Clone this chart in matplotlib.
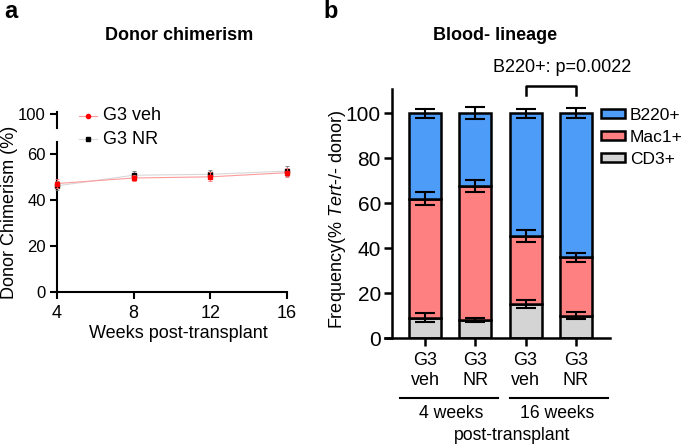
import matplotlib
matplotlib.use("Agg")
import matplotlib.pyplot as plt
from matplotlib.patches import Patch
import numpy as np

plt.rcParams['font.family'] = ['Liberation Sans', 'DejaVu Sans']
plt.rcParams['mathtext.fontset'] = 'custom'
plt.rcParams['mathtext.rm'] = 'Liberation Sans'
plt.rcParams['mathtext.it'] = 'Liberation Sans:italic'

# ---- data: panel a ----
weeks = [4, 8, 12, 16]
veh_mean = [47.0, 49.4, 49.9, 51.7]
veh_err = [2.0, 1.5, 2.0, 2.0]
nr_mean = [46.0, 50.6, 51.0, 52.4]
nr_err = [2.0, 2.0, 2.0, 2.0]

# ---- data: panel b ----
groups = ["G3\nveh", "G3\nNR", "G3\nveh", "G3\nNR"]
cd3 = [9.0, 8.0, 15.0, 10.0]
cd3_err = [2.0, 1.0, 1.8, 1.5]
mac1 = [53.0, 59.5, 30.5, 26.0]     # stacked on CD3
mac1_top_err = [2.8, 2.8, 2.6, 2.0]
b220 = [38.0, 32.5, 54.5, 64.0]     # stacked on top
b220_top_err = [2.0, 2.8, 2.0, 2.3]
timepoints = ["4 weeks", "16 weeks"]
p_text = "B220+: p=0.0022"

W, H = 684, 446
fig = plt.figure(figsize=(W / 100, H / 100), dpi=100)

def ax_px(x0, y0, x1, y1):
    return fig.add_axes([x0 / W, 1 - y1 / H, (x1 - x0) / W, (y1 - y0) / H])

# ================= panel a =================
axl = ax_px(57, 142, 287, 292)
axu = ax_px(57, 112, 287, 128)
for a in (axl, axu):
    a.set_facecolor('none')
    for s in ('top', 'right'):
        a.spines[s].set_visible(False)
    a.spines['left'].set_linewidth(1.5)
    a.tick_params(axis='both', width=1.5, length=5, labelsize=12, pad=3)
axl.spines['bottom'].set_linewidth(1.5)
axl.tick_params(axis='x', labelsize=13, pad=4)
axu.spines['bottom'].set_visible(False)
axu.set_xticks([])
axl.set_xlim(4, 16)
axu.set_xlim(4, 16)
axl.set_ylim(0, 65)
axu.set_ylim(94, 100.9)
axl.set_yticks([0, 20, 40, 60])
axu.set_yticks([100])
axl.set_xticks(weeks)

axl.plot(weeks, nr_mean, color='#d8d8d8', lw=0.8, zorder=2)
axl.plot(weeks, veh_mean, color='#ff9a9a', lw=0.8, zorder=3)
axl.errorbar(weeks, nr_mean, yerr=nr_err, fmt='s', color='black', ms=3,
             ecolor='#777777', elinewidth=0.6, capsize=1.5, capthick=0.6, zorder=4, clip_on=False)
axl.errorbar(weeks, veh_mean, yerr=veh_err, fmt='s', color='red', ms=3,
             ecolor='#ff7070', elinewidth=0.6, capsize=1.5, capthick=0.6, zorder=5, clip_on=False)

# legend handles drawn manually (figure coords)
for (y, col, lcol, mk, lab) in [(116, 'red', '#ff9a9a', 'o', 'G3 veh'),
                                (139, 'black', '#d8d8d8', 's', 'G3 NR')]:
    fig.add_artist(plt.Line2D([79 / W, 97 / W], [1 - y / H, 1 - y / H], color=lcol, lw=0.8))
    fig.add_artist(plt.Line2D([88 / W], [1 - y / H], marker=mk, color=col, ms=3, lw=0))
    fig.text(103 / W, 1 - y / H, lab, fontsize=13, va='center', ha='left')

fig.text(179 / W, 1 - 36 / H, "Donor chimerism", fontsize=13, fontweight='bold',
         ha='center', va='center')
fig.text(10 / W, 1 - 212 / H, "Donor Chimerism (%)", fontsize=13, rotation=90,
         ha='center', va='center')
fig.text(178 / W, 1 - 334 / H, "Weeks post-transplant", fontsize=13,
         ha='center', va='center')
fig.text(4 / W, 1 - 11 / H, "a", fontsize=17, fontweight='bold', ha='left', va='center')
fig.text(323 / W, 1 - 11 / H, "b", fontsize=17, fontweight='bold', ha='left', va='center')

# ================= panel b =================
axb = ax_px(385, 89, 610, 338)
axb.set_facecolor('none')
x = np.arange(len(groups))
axb.set_xlim(-0.8, 3.68)
axb.set_ylim(0, 110.7)
for s in ('top', 'right'):
    axb.spines[s].set_visible(False)
axb.spines['left'].set_position(('data', -0.66))
axb.spines['left'].set_linewidth(1.8)
axb.spines['bottom'].set_linewidth(1.8)
axb.tick_params(axis='both', width=1.8, length=6, pad=2)
axb.tick_params(axis='y', labelsize=15)
axb.tick_params(axis='x', labelsize=13, pad=4)
axb.set_yticks([0, 20, 40, 60, 80, 100])
axb.set_xticks(x)
axb.set_xticklabels(groups, linespacing=1.25)

bw = 0.64
c_b, c_m, c_c = '#4d9cf8', '#ff8080', '#d4d4d4'
mac_top = [c + m for c, m in zip(cd3, mac1)]
b_top = [mt + b for mt, b in zip(mac_top, b220)]
axb.bar(x, cd3, bw, color=c_c, edgecolor='black', lw=1.8, zorder=2)
axb.bar(x, mac1, bw, bottom=cd3, color=c_m, edgecolor='black', lw=1.8, zorder=2)
axb.bar(x, b220, bw, bottom=mac_top, color=c_b, edgecolor='black', lw=1.8, zorder=2)
for vals, errs in [(cd3, cd3_err), (mac_top, mac1_top_err), (b_top, b220_top_err)]:
    axb.errorbar(x, vals, yerr=errs, fmt='none', ecolor='black', elinewidth=1.5,
                 capsize=7, capthick=1.5, zorder=3)

# significance bracket
yb0, yb1 = 112.0, 108.0
axb.plot([2, 2, 3, 3], [yb1, yb0, yb0, yb1], color='black', lw=1.8, clip_on=False)
fig.text(562 / W, 1 - 68 / H, p_text, fontsize=13, ha='center', va='center')

# legend
leg = axb.legend([Patch(facecolor=c, edgecolor='black', lw=1.8) for c in (c_b, c_m, c_c)],
                 ["B220+", "Mac1+", "CD3+"], loc='upper left',
                 bbox_to_anchor=(0.962, 0.925), frameon=False, fontsize=12.5,
                 handlelength=1.35, handleheight=0.45, handletextpad=0.3,
                 labelspacing=0.4, borderaxespad=0, borderpad=0)

# group lines & labels
for (x0, x1, cx, lab) in [(400, 498, 451, timepoints[0]), (510, 608, 557, timepoints[1])]:
    fig.add_artist(plt.Line2D([x0 / W, x1 / W], [1 - 398 / H, 1 - 398 / H], color='black', lw=1.5))
    fig.text(cx / W, 1 - 413 / H, lab, fontsize=12.7, ha='center', va='center')
fig.text(512 / W, 1 - 435 / H, "post-transplant", fontsize=12.7, ha='center', va='center')

fig.text(495 / W, 1 - 36 / H, "Blood- lineage", fontsize=13, fontweight='bold',
         ha='center', va='center')
fig.text(338 / W, 1 - 220 / H, r"Frequency(% $\it{Tert}$-/- donor)", fontsize=13,
         rotation=90, ha='center', va='center')

fig.savefig("out.png", dpi=100)
